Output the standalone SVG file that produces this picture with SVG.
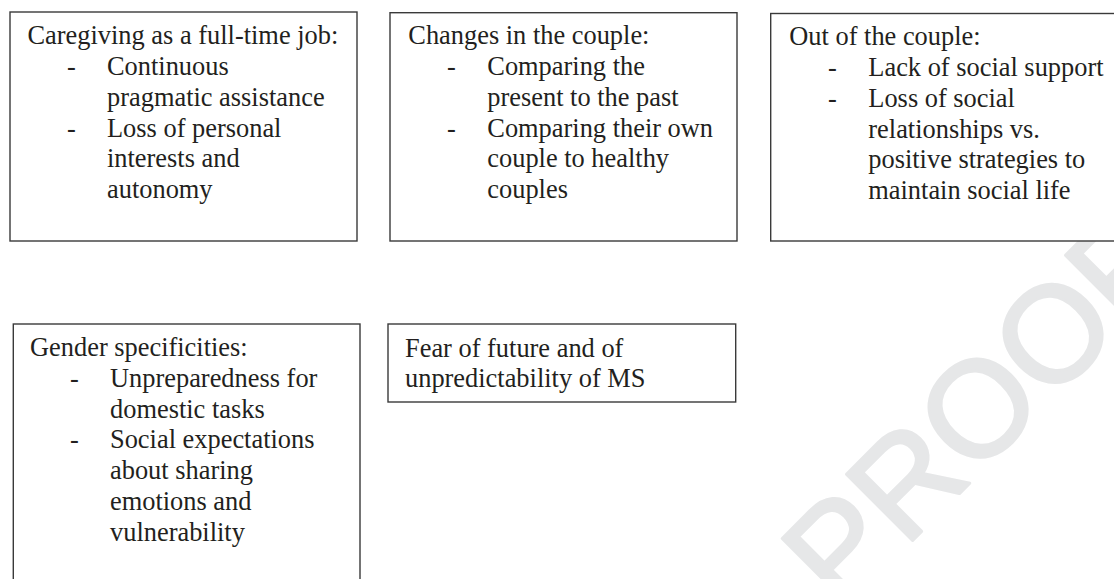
<svg xmlns="http://www.w3.org/2000/svg" width="1114" height="579" viewBox="0 0 1114 579">
<style>
.box{fill:#ffffff;stroke:#3a3a3a;stroke-width:1.4}
.t{font-family:"Liberation Serif","Times New Roman",serif;font-size:26.4px;fill:#231f20}
.wm{font-family:"Liberation Sans",Arial,sans-serif;font-size:136px;fill:#e6e7e8;stroke:#e6e7e8;stroke-width:3;stroke-linejoin:round}
</style>
<rect x="0" y="0" width="1114" height="579" fill="#ffffff"/>
<g id="watermark"><text class="wm" transform="translate(840.5,612.4) rotate(-45)">PROOF</text></g>
<g id="connectors"></g>
<g id="node-caregiving">
<rect class="box" x="10" y="12" width="347" height="229"/>
<text class="t" x="27.5" y="44">Caregiving as a full-time job:</text>
<text class="t" x="67" y="75">-</text><text class="t" x="107" y="75">Continuous</text>
<text class="t" x="107" y="105.8">pragmatic assistance</text>
<text class="t" x="67" y="136.6">-</text><text class="t" x="107" y="136.6">Loss of personal</text>
<text class="t" x="107" y="167.4">interests and</text>
<text class="t" x="107" y="198.2">autonomy</text>
</g>
<g id="node-changes">
<rect class="box" x="390" y="12.7" width="347" height="228.3"/>
<text class="t" x="408.3" y="44">Changes in the couple:</text>
<text class="t" x="447" y="75">-</text><text class="t" x="487.3" y="75">Comparing the</text>
<text class="t" x="487.3" y="105.8">present to the past</text>
<text class="t" x="447" y="136.6">-</text><text class="t" x="487.3" y="136.6">Comparing their own</text>
<text class="t" x="487.3" y="167.4">couple to healthy</text>
<text class="t" x="487.3" y="198.2">couples</text>
</g>
<g id="node-out">
<rect class="box" x="770.7" y="13.5" width="360" height="227.5"/>
<text class="t" x="789.3" y="45">Out of the couple:</text>
<text class="t" x="828" y="76">-</text><text class="t" x="868.3" y="76">Lack of social support</text>
<text class="t" x="828" y="106.8">-</text><text class="t" x="868.3" y="106.8">Loss of social</text>
<text class="t" x="868.3" y="137.6">relationships vs.</text>
<text class="t" x="868.3" y="168.4">positive strategies to</text>
<text class="t" x="868.3" y="199.2">maintain social life</text>
</g>
<g id="node-gender">
<rect class="box" x="13.3" y="324" width="346.7" height="270"/>
<text class="t" x="30" y="356">Gender specificities:</text>
<text class="t" x="70" y="386.8">-</text><text class="t" x="110" y="386.8">Unpreparedness for</text>
<text class="t" x="110" y="417.6">domestic tasks</text>
<text class="t" x="70" y="448.4">-</text><text class="t" x="110" y="448.4">Social expectations</text>
<text class="t" x="110" y="479.2">about sharing</text>
<text class="t" x="110" y="510">emotions and</text>
<text class="t" x="110" y="540.8">vulnerability</text>
</g>
<g id="node-fear">
<rect class="box" x="388" y="324" width="347.7" height="78"/>
<text class="t" x="405" y="356.7">Fear of future and of</text>
<text class="t" x="405" y="387">unpredictability of MS</text>
</g>
</svg>
